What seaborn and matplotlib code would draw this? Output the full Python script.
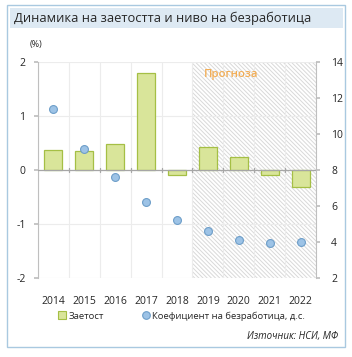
import matplotlib
matplotlib.use("Agg")
import matplotlib.pyplot as plt
import seaborn as sns
import numpy as np
import pandas as pd
from matplotlib.patches import Rectangle
from matplotlib.lines import Line2D

years = ["2014", "2015", "2016", "2017", "2018", "2019", "2020", "2021", "2022"]
employment = [0.37, 0.35, 0.49, 1.80, -0.10, 0.42, 0.24, -0.09, -0.31]
unemployment = [11.4, 9.15, 7.6, 6.2, 5.2, 4.6, 4.1, 3.95, 3.98]
left_ticks = [-2, -1, 0, 1, 2]
right_ticks = [2, 4, 6, 8, 10, 12, 14]

title = "Динамика на заетостта и ниво на безработица"
forecast_label = "Прогноза"
label_emp = "Заетост"
label_unemp = "Коефициент на безработица, д.с."
source = "Източник: НСИ, МФ"

sns.set_theme(style="white")
plt.rcParams['font.family'] = ['Open Sans', 'DejaVu Sans']
plt.rcParams['hatch.color'] = '#d9d9d9'
plt.rcParams['hatch.linewidth'] = 0.7

W, H = 352, 357
fig = plt.figure(figsize=(W / 100, H / 100), dpi=100)

def fx(px):
    return px / W

def fy(py):
    return 1 - py / H

# outer border & title band
fig.patches.append(Rectangle((fx(7), fy(347)), fx(345) - fx(7), fy(5) - fy(347),
                             transform=fig.transFigure, facecolor='white',
                             edgecolor='#a9c9e0', lw=1.0, zorder=-2))
fig.patches.append(Rectangle((fx(10), fy(28)), fx(343) - fx(10), fy(8) - fy(28),
                             transform=fig.transFigure, facecolor='#dde9f3',
                             edgecolor='none', zorder=-1))
fig.text(fx(14), fy(18), title, fontsize=9.3, color='#262626', va='center', ha='left')

ax = fig.add_axes([fx(38), fy(278), fx(316) - fx(38), fy(62) - fy(278)])
ax.patch.set_alpha(0)
df = pd.DataFrame({"year": years, "employment": employment, "unemployment": unemployment})

# forecast hatched area
ax.axvspan(4.5, 8.5, facecolor='none', edgecolor='#d9d9d9', hatch='\\' * 8, lw=0, zorder=0)

sns.barplot(data=df, x="year", y="employment", ax=ax, color='#d9e59a',
            edgecolor='#a5bf45', linewidth=0.9, width=0.58, saturation=1, zorder=2)
ax.set_ylim(-2, 2)
ax.set_xlim(-0.5, 8.5)
ax.set_yticks(left_ticks)
ax.set_yticklabels([str(t) for t in left_ticks])
ax.set_xlabel("")
ax.set_ylabel("")
for x in np.arange(-0.5, 8.6, 1.0):
    ax.axvline(x, color='#ececec', lw=0.8, zorder=0.5)
for y in left_ticks:
    ax.axhline(y, color='#ececec', lw=0.8, zorder=0.5)
ax.axhline(0, color='#a6a6a6', lw=0.9, zorder=3)
# small tick marks on the zero line at category boundaries
for x in np.arange(0.5, 8.5, 1.0):
    ax.plot([x, x], [-0.035, 0.035], color='#a6a6a6', lw=0.9, zorder=3)

for s in ['top', 'right', 'bottom']:
    ax.spines[s].set_visible(False)
ax.spines['left'].set_color('#bfbfbf')
ax.spines['left'].set_linewidth(0.8)
ax.tick_params(axis='y', length=3, color='#bfbfbf', labelsize=7.5, labelcolor='#262626', pad=6, left=True)
ax.tick_params(axis='x', length=0, labelsize=7.5, labelcolor='#262626', pad=13)

ax2 = ax.twinx()
sns.scatterplot(data=df, x="year", y="unemployment", ax=ax2, color='#9dc3e6',
                edgecolor='#6d9ec9', linewidth=0.8, s=32, zorder=4)
ax2.set_ylim(2, 14)
ax2.set_yticks(right_ticks)
ax2.set_yticklabels([str(t) for t in right_ticks])
ax2.set_ylabel("")
ax2.set_xlim(-0.5, 8.5)
for s in ['top', 'left', 'bottom']:
    ax2.spines[s].set_visible(False)
ax2.spines['right'].set_color('#bfbfbf')
ax2.spines['right'].set_linewidth(0.8)
ax2.tick_params(axis='y', length=3, color='#bfbfbf', labelsize=7.5, labelcolor='#262626', pad=8, right=True)

fig.text(fx(36), fy(44), "(%)", fontsize=6.5, color='#262626', ha='center', va='center')
fig.text(fx(204), fy(75), forecast_label, fontsize=8.2, color='#f2ad55', ha='left', va='center',
         fontweight='semibold')

handles = [
    Line2D([], [], marker='s', linestyle='none', markersize=6, markerfacecolor='#d9e59a', markeredgecolor='#a5bf45', markeredgewidth=0.8),
    Line2D([], [], marker='o', linestyle='none', markersize=5.5, markerfacecolor='#9dc3e6', markeredgecolor='#6d9ec9', markeredgewidth=0.8),
]
fig.legend(handles, [label_emp, label_unemp], loc='center', bbox_to_anchor=(fx(181.5), fy(316)),
           ncol=2, frameon=False, fontsize=6.8, handletextpad=0.15, columnspacing=4.0,
           handlelength=1.0, borderaxespad=0)
fig.text(fx(338), fy(336), source, fontsize=7, style='italic', color='#262626', ha='right', va='center')

fig.savefig("out.png", dpi=100)
